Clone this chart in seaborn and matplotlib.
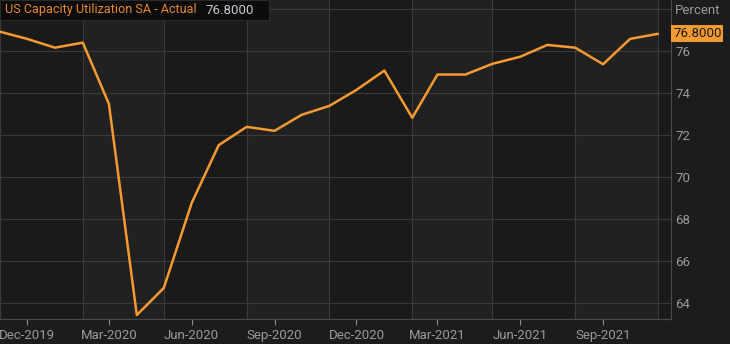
import numpy as np
import pandas as pd
import matplotlib
matplotlib.use("Agg")
import matplotlib.pyplot as plt
import matplotlib.dates as mdates
from matplotlib.patches import Rectangle
import seaborn as sns

# ---- data ----
months = ["2019-11", "2019-12", "2020-01", "2020-02", "2020-03", "2020-04",
          "2020-05", "2020-06", "2020-07", "2020-08", "2020-09", "2020-10",
          "2020-11", "2020-12", "2021-01", "2021-02", "2021-03", "2021-04",
          "2021-05", "2021-06", "2021-07", "2021-08", "2021-09", "2021-10",
          "2021-11"]
capacity_util = [76.9, 76.56, 76.14, 76.38, 73.46, 63.41,
                 64.70, 68.75, 71.50, 72.37, 72.18, 72.94,
                 73.37, 74.13, 75.05, 72.80, 74.86, 74.86,
                 75.37, 75.71, 76.27, 76.14, 75.35, 76.56,
                 76.80]
y_ticks = [64, 66, 68, 70, 72, 74, 76, 78]
y_tick_labels = ["64", "66", "68", "70", "72", "74", "76", "Percent"]
title_text = "US Capacity Utilization SA - Actual"
last_value_text = "76.8000"

df = pd.DataFrame({"date": pd.to_datetime(months), "value": capacity_util})

# ---- style ----
sns.set_theme(style="dark")
plt.rcParams["font.family"] = ["Roboto", "DejaVu Sans"]

W, H = 730, 344
fig = plt.figure(figsize=(W / 100, H / 100), dpi=100)
fig.patch.set_facecolor("#1c1c1c")

ax = fig.add_axes([0, 25 / H, 671 / W, 319 / H])
ax.set_facecolor("#1a1a1a")

x0 = mdates.date2num(pd.Timestamp("2019-11-01"))
x1 = mdates.date2num(pd.Timestamp("2021-11-01"))
ax.set_xlim(x0, x1 + (x1 - x0) * 13 / 658)
ax.set_ylim(63.22, 78.41)

# alternating bands between quarterly grid lines
band_edges = pd.to_datetime(["2020-02-01", "2020-05-01", "2020-08-01", "2020-11-01",
                             "2021-02-01", "2021-05-01", "2021-08-01", "2021-11-01"])
for i in range(0, len(band_edges) - 1, 2):
    ax.axvspan(band_edges[i], band_edges[i + 1], color="#212121", zorder=0, lw=0)

sns.lineplot(data=df, x="date", y="value", ax=ax, color="#f59a32", lw=1.8, zorder=3)

# axes formatting
ax.set_xlabel("")
ax.set_ylabel("")
ax.xaxis.set_major_locator(mdates.MonthLocator(bymonth=[3, 6, 9, 12]))
ax.xaxis.set_major_formatter(mdates.DateFormatter("%b-%Y"))
ax.xaxis.set_minor_locator(mdates.MonthLocator(bymonth=[2, 5, 8, 11]))
ax.yaxis.tick_right()
ax.set_yticks(y_ticks)
ax.set_yticklabels(y_tick_labels)

ax.grid(False)
ax.grid(True, which="minor", axis="x", color="#3a3a3a", lw=0.8)
ax.grid(True, which="major", axis="y", color="#3a3a3a", lw=0.8)
ax.set_axisbelow(True)

ax.tick_params(axis="x", which="major", colors="#8a8a8a", labelcolor="#9a9a9a",
               length=4, width=0.8, direction="out", pad=3, labelsize=9.5, bottom=True)
ax.tick_params(axis="x", which="minor", length=0)
ax.tick_params(axis="y", colors="#9a9a9a", length=0, pad=3, labelsize=9.5)
for lbl in ax.get_yticklabels():
    lbl.set_horizontalalignment("left")

for side in ["top", "left"]:
    ax.spines[side].set_visible(False)
for side in ["bottom", "right"]:
    ax.spines[side].set_visible(True)
    ax.spines[side].set_color("#4a4a4a")
    ax.spines[side].set_linewidth(0.8)

# last value tag on right axis
ax.text(1.003, df["value"].iloc[-1], last_value_text, transform=ax.get_yaxis_transform(),
        ha="left", va="center", fontsize=9.5, color="#1a1a1a",
        bbox=dict(boxstyle="square,pad=0.15", fc="#f59a32", ec="none"), zorder=5)

# title box
fig.patches.append(Rectangle((0, 1 - 20 / H), 269 / W, 20 / H, transform=fig.transFigure,
                             facecolor="#0c0c0c", edgecolor="#2a2a2a", lw=0.8, zorder=10))
fig.text(5 / W, 1 - 10 / H, title_text, color="#e8892e", fontsize=9.1,
         ha="left", va="center", zorder=11)
fig.text(205 / W, 1 - 10 / H, last_value_text, color="#c8c8d0", fontsize=9.5,
         ha="left", va="center", zorder=11)

fig.savefig("out.png", dpi=100, facecolor=fig.get_facecolor())
